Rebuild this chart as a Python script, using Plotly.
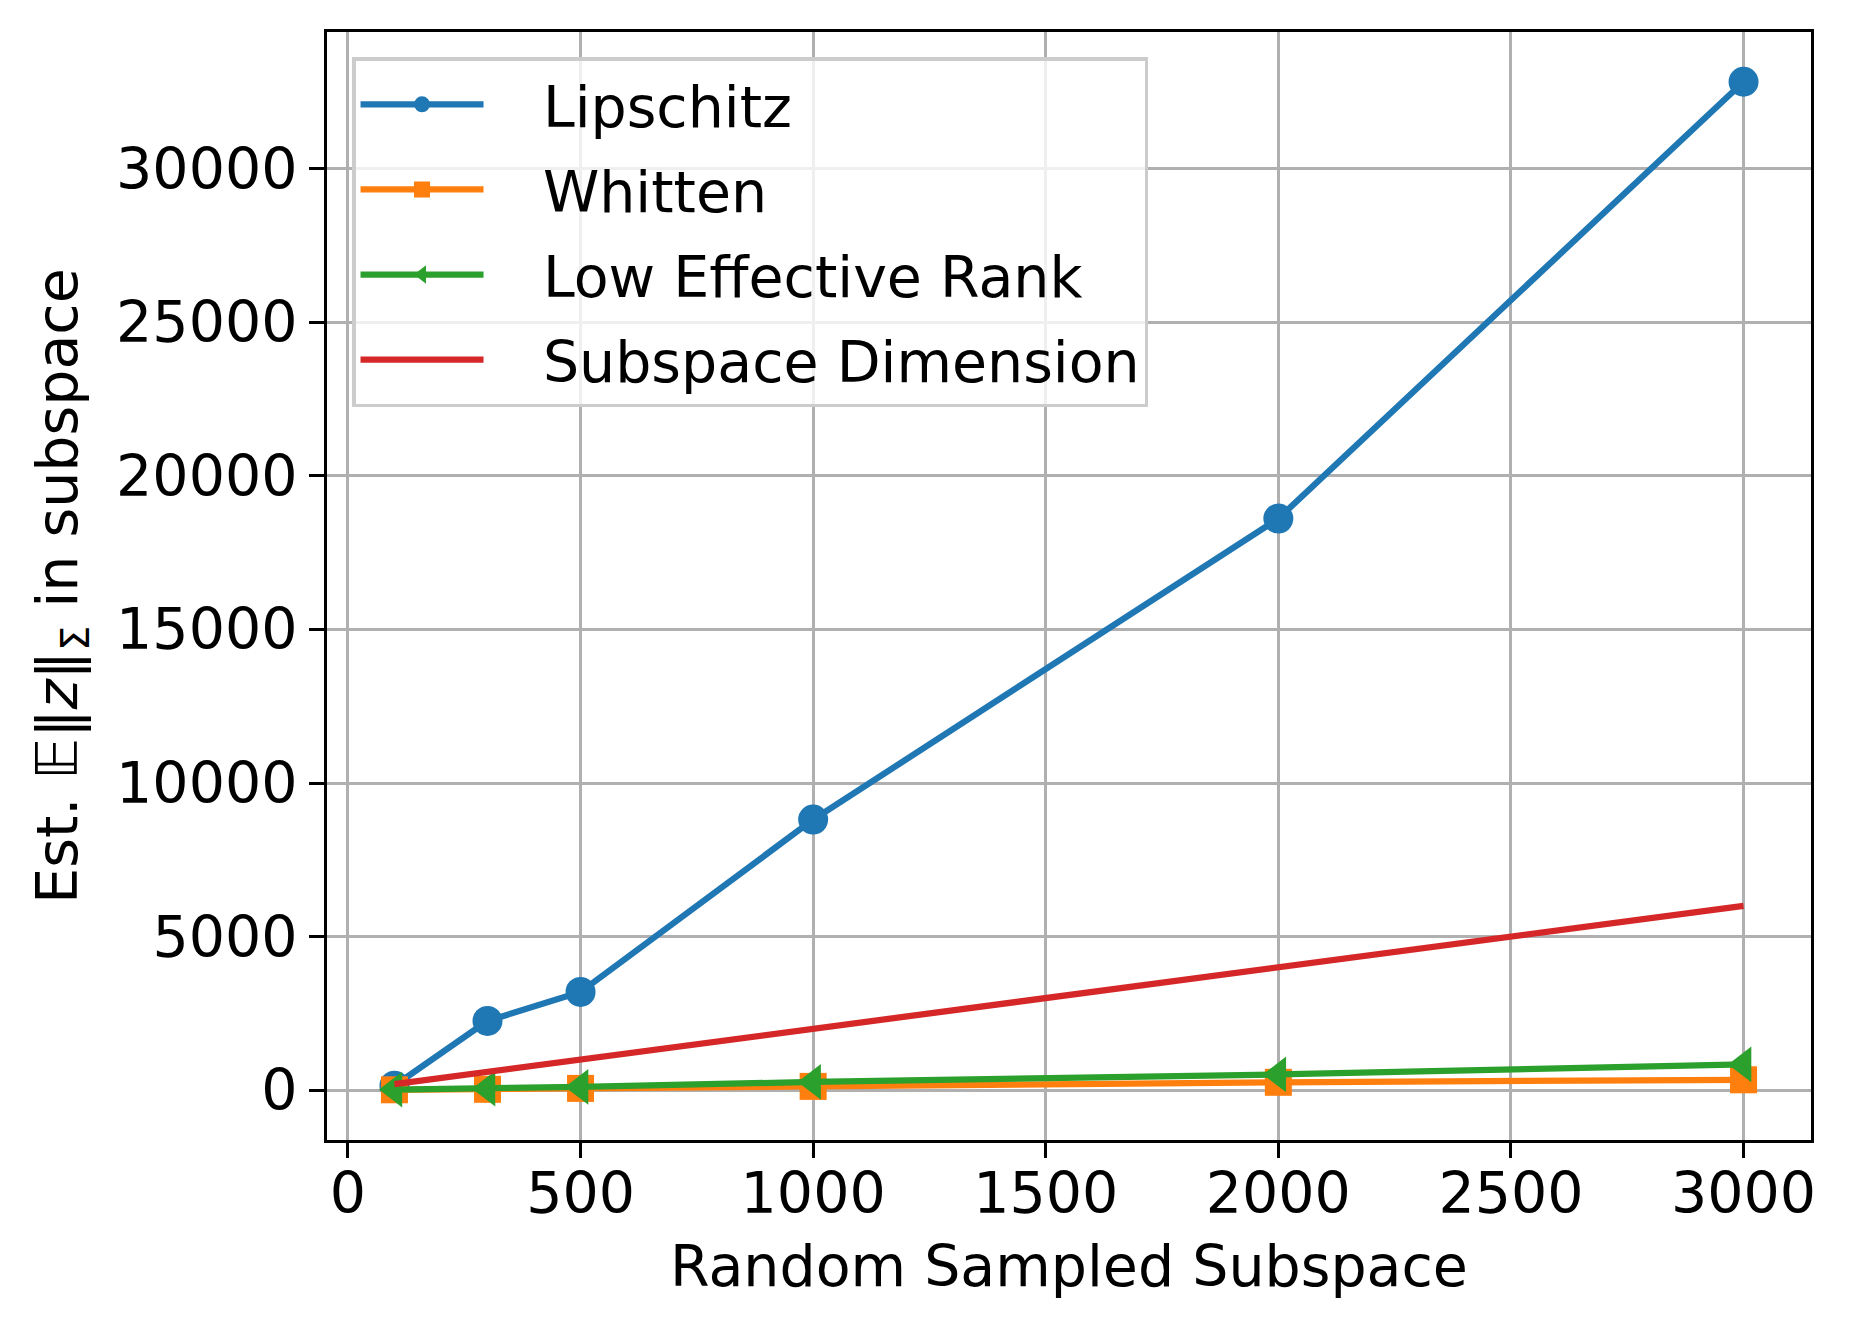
import plotly.graph_objects as go

subspace = [100, 300, 500, 1000, 2000, 3000]
lipschitz = [150, 2257, 3200, 8810, 18610, 32830]
whitten = [15, 30, 60, 125, 258, 340]
low_eff_rank = [20, 52, 107, 270, 515, 840]
subspace_dim = [200, 600, 1000, 2000, 4000, 6000]

x_ticks = [0, 500, 1000, 1500, 2000, 2500, 3000]
y_ticks = [0, 5000, 10000, 15000, 20000, 25000, 30000]

FONT = "DejaVu Sans"
FS = 57
LW = 6.25
PAD = "\u00a0\u00a0\u00a0"

fig = go.Figure()
fig.add_trace(go.Scatter(x=subspace, y=lipschitz, name=PAD + "Lipschitz", mode="lines+markers",
                         line=dict(color="#1f77b4", width=LW),
                         marker=dict(symbol="circle", size=30, color="#1f77b4"),
                         legendgroup="a"))
fig.add_trace(go.Scatter(x=subspace, y=whitten, name=PAD + "Whitten", mode="lines+markers",
                         line=dict(color="#ff7f0e", width=LW),
                         marker=dict(symbol="square", size=27, color="#ff7f0e"),
                         legendgroup="b"))
fig.add_trace(go.Scatter(x=subspace, y=low_eff_rank, name=PAD + "Low Effective Rank", mode="lines+markers",
                         line=dict(color="#2ca02c", width=LW),
                         marker=dict(symbol="triangle-left", size=31, color="#2ca02c"),
                         legendgroup="c"))
fig.add_trace(go.Scatter(x=subspace, y=subspace_dim, name=PAD + "Subspace Dimension", mode="lines",
                         line=dict(color="#d62728", width=LW),
                         legendgroup="d"))

axis_common = dict(
    showline=True, linecolor="black", linewidth=3.3, mirror=True,
    ticks="outside", ticklen=15, tickwidth=3.3, tickcolor="black",
    showgrid=True, gridcolor="#b0b0b0", gridwidth=3.3,
    zeroline=False,
    tickfont=dict(family=FONT, size=FS, color="black"),
)

fig.update_layout(
    width=1849, height=1328,
    margin=dict(l=319, r=46, t=24, b=196),
    paper_bgcolor="white", plot_bgcolor="white",
    font=dict(family=FONT, size=FS, color="black"),
    showlegend=True,
    legend=dict(
        x=0.017, y=0.977, xanchor="left", yanchor="top",
        bgcolor="rgba(255,255,255,0.8)", bordercolor="#cccccc", borderwidth=3.3,
        font=dict(family=FONT, size=FS, color="black"),
        traceorder="grouped", tracegroupgap=8, itemwidth=123,
    ),
    xaxis=dict(axis_common, range=[-45, 3145], tickvals=x_ticks,
               ticktext=[str(v) for v in x_ticks], ticklabelstandoff=-14,
               title=dict(text="Random Sampled Subspace", font=dict(family=FONT, size=FS), standoff=22)),
    yaxis=dict(axis_common, range=[-1620, 34450], tickvals=y_ticks,
               ticktext=[str(v) for v in y_ticks],
               title=dict(text="Est. 𝔼‖<i>z</i>‖<sub>Σ</sub> in subspace", font=dict(family=FONT, size=FS), standoff=21)),
)

fig.write_html("out.html")
